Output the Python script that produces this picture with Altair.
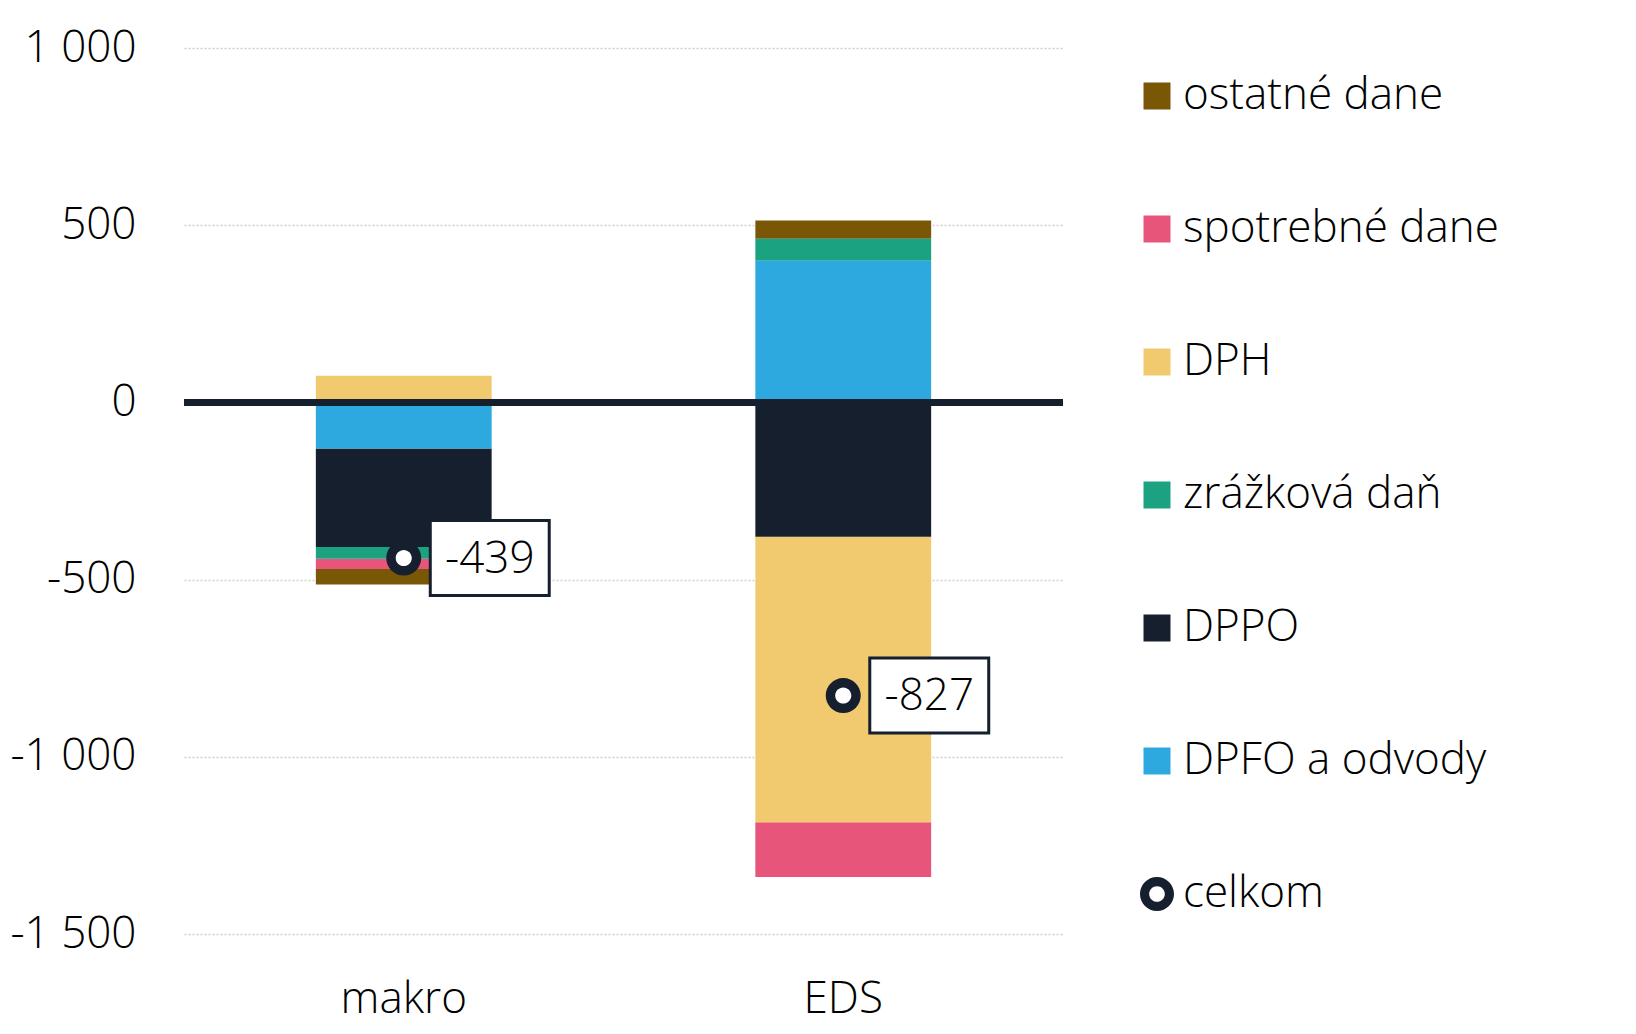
import pandas as pd
import altair as alt

# --- data ---
scenare = ['makro', 'EDS']
kategorie = ['ostatné dane', 'spotrebné dane', 'DPH', 'zrážková daň', 'DPPO', 'DPFO a odvody']
farby = ['#7a5707', '#e8557a', '#f1c96f', '#1ba381', '#151f2e', '#2ea9df']
poradie = [5, 4, 3, 2, 1, 0]  # stacking order from zero outwards

makro_hodnoty = [-44, -29, 75, -33, -278, -130]
eds_hodnoty = [51, -154, -806, 62, -379, 400]
celkom = [-439, -827]
celkom_text = ['-439', '-827']

TMAVA = '#151f2e'
FONT = 'Open Sans'
WEIGHT = 300

rows = []
for scen, vals in zip(scenare, [makro_hodnoty, eds_hodnoty]):
    for kat, val, por in zip(kategorie, vals, poradie):
        rows.append({'scenar': scen, 'typ': kat, 'hodnota': val, 'poradie': por})
df_bars = pd.DataFrame(rows)
df_total = pd.DataFrame({'scenar': scenare, 'hodnota': celkom, 'text': celkom_text, 'typ': 'celkom'})

domena = kategorie + ['celkom']
farby_all = farby + [TMAVA]
RING = 'M-1.26,0A1.26,1.26 0 1,0 1.26,0A1.26,1.26 0 1,0 -1.26,0ZM-0.58,0A0.58,0.58 0 1,1 0.58,0A0.58,0.58 0 1,1 -0.58,0Z'
tvary = ['square'] * 6 + [RING]
BOX = 'M-0.793,-0.5H0.793V0.5H-0.793Z'

x_enc = alt.X('scenar:N', sort=scenare, title=None,
              scale=alt.Scale(paddingInner=0.6, paddingOuter=0.3),
              axis=alt.Axis(labelAngle=0, ticks=False, tickSize=0, domain=False, grid=False,
                            labelPadding=78, labelBaseline='alphabetic',
                            labelFontSize=44, labelFont=FONT, labelFontWeight=WEIGHT,
                            labelColor='#000000'))
y_scale = alt.Scale(domain=[-1500, 1000], nice=False)

legend = alt.Legend(title=None, orient='none', legendX=951, legendY=26,
                    labelFontSize=44, labelFont=FONT, labelFontWeight=WEIGHT,
                    labelColor='#000000', labelLimit=500,
                    symbolSize=729, symbolStrokeWidth=0, labelOffset=4,
                    rowPadding=89)

bars = alt.Chart(df_bars).mark_bar().encode(
    x=x_enc,
    y=alt.Y('hodnota:Q', stack='zero', scale=y_scale, title=None,
            axis=alt.Axis(values=[-1500, -1000, -500, 0, 500, 1000], ticks=False, tickSize=0,
                          domain=False, labelPadding=48, labelFontSize=44, labelFont=FONT,
                          labelFontWeight=WEIGHT, labelColor='#000000',
                          gridDash=[2, 2], gridColor='#cfcfcf', gridWidth=1.5,
                          labelExpr="(datum.value < 0 ? '-' : '') + replace(format(abs(datum.value), ','), ',', ' ')")),
    color=alt.Color('typ:N', scale=alt.Scale(domain=domena, range=farby_all), legend=legend),
    order=alt.Order('poradie:Q'),
)

zero = alt.Chart(pd.DataFrame({'y': [0]})).mark_rule(color=TMAVA, strokeWidth=7).encode(
    y=alt.Y('y:Q', scale=y_scale)
)

white_dot = alt.Chart(df_total).mark_point(filled=True, color='white', opacity=1, size=400).encode(
    x=alt.X('scenar:N', sort=scenare),
    y=alt.Y('hodnota:Q', scale=y_scale),
)

ring = alt.Chart(df_total).mark_point(filled=True, opacity=1, size=772, strokeWidth=0).encode(
    x=alt.X('scenar:N', sort=scenare),
    y=alt.Y('hodnota:Q', scale=y_scale),
    color=alt.Color('typ:N', scale=alt.Scale(domain=domena, range=farby_all), legend=legend),
    shape=alt.Shape('typ:N', scale=alt.Scale(domain=domena, range=tvary), legend=legend),
)

box = alt.Chart(df_total).mark_point(shape=BOX, filled=True, fill='white', stroke=TMAVA,
                                     strokeWidth=3, opacity=1, size=22500, xOffset=86).encode(
    x=alt.X('scenar:N', sort=scenare),
    y=alt.Y('hodnota:Q', scale=y_scale),
)

label = alt.Chart(df_total).mark_text(font=FONT, fontSize=44, fontWeight=WEIGHT, color='#000000',
                                      xOffset=86, dy=2, align='center', baseline='middle').encode(
    x=alt.X('scenar:N', sort=scenare),
    y=alt.Y('hodnota:Q', scale=y_scale),
    text='text:N',
)

chart = alt.layer(bars, zero, white_dot, ring, box, label).properties(
    width=879, height=886,
    background='white',
    autosize=alt.AutoSizeParams(type='none'),
    padding={'left': 176, 'top': 40, 'right': 560, 'bottom': 92},
).configure_view(strokeWidth=0)

chart.save("out.html", embed_options={"renderer": "svg", "actions": False})
